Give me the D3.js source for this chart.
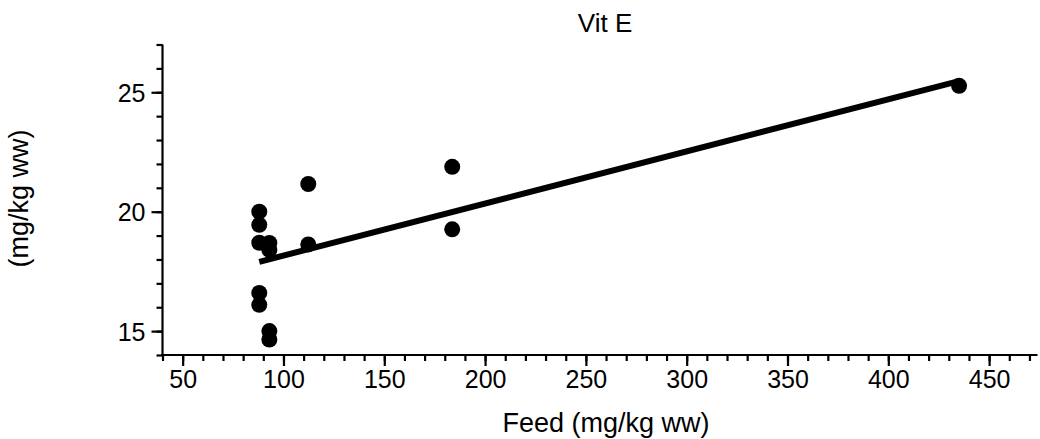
<!DOCTYPE html>
<html>
<head>
<meta charset="utf-8">
<script src="https://cdn.jsdelivr.net/npm/d3@7"></script>
<style>
  html, body { margin: 0; padding: 0; background: #fff; }
  svg { display: block; font-family: "Liberation Sans", Arial, Helvetica, sans-serif; }
</style>
</head>
<body>
<svg id="chart" width="1040" height="439"></svg>
<script>
// ---- data ----
const title = "Vit E";
const xLabel = "Feed (mg/kg ww)";
const yLabel = "(mg/kg ww)";
const feed = [88, 88, 88, 88, 88, 93, 93, 93, 93, 112.3, 112.3, 183.7, 183.7, 435.1];
const vitE = [20.0, 19.45, 18.7, 16.6, 16.1, 18.69, 18.4, 15.0, 14.65, 21.16, 18.63, 21.88, 19.26, 25.27];
const fitX = [88, 435];
const fitY = [17.9, 25.47];
const xTicks = [50, 100, 150, 200, 250, 300, 350, 400, 450];
const xMinorTicks = d3.range(40, 471, 10);
const yTicks = [15, 20, 25];
const yMinorTicks = d3.range(14, 28, 1);

// ---- chart ----
const svg = d3.select("#chart");
const x = d3.scaleLinear().domain([40, 474]).range([162.5, 1037.5]);
const y = d3.scaleLinear().domain([14, 27]).range([355, 44.5]);

// minor ticks
const xMinor = svg.append("g").attr("transform", `translate(0,${y(14)})`)
  .call(d3.axisBottom(x).tickValues(xMinorTicks).tickSize(6).tickFormat(""));
const yMinor = svg.append("g").attr("transform", `translate(${x(40)},0)`)
  .call(d3.axisLeft(y).tickValues(yMinorTicks).tickSize(6).tickFormat(""));

// major axes
const xAxis = svg.append("g").attr("transform", `translate(0,${y(14)})`)
  .call(d3.axisBottom(x).tickValues(xTicks).tickSize(11).tickPadding(4).tickFormat(d3.format("d")));
const yAxis = svg.append("g").attr("transform", `translate(${x(40)},0)`)
  .call(d3.axisLeft(y).tickValues(yTicks).tickSize(11).tickPadding(6).tickFormat(d3.format("d")));

[xMinor, yMinor, xAxis, yAxis].forEach(g => {
  g.select(".domain").attr("stroke", "#000").attr("stroke-width", 2).attr("d", null);
  g.selectAll(".tick line").attr("stroke", "#000").attr("stroke-width", 2.2);
});
// domain lines drawn explicitly
svg.append("line").attr("x1", x(40) - 1).attr("x2", x(474)).attr("y1", y(14)).attr("y2", y(14))
  .attr("stroke", "#000").attr("stroke-width", 2.2);
svg.append("line").attr("x1", x(40)).attr("x2", x(40)).attr("y1", y(14) + 1).attr("y2", y(27))
  .attr("stroke", "#000").attr("stroke-width", 2.2);

xAxis.selectAll(".tick text").attr("font-size", 25).attr("fill", "#000")
  .attr("font-family", "Liberation Sans, Arial, sans-serif");
yAxis.selectAll(".tick text").attr("font-size", 25).attr("fill", "#000")
  .attr("font-family", "Liberation Sans, Arial, sans-serif").attr("dy", "0.36em");

// fit line
svg.append("path")
  .datum(fitX.map((d, i) => [d, fitY[i]]))
  .attr("d", d3.line().x(d => x(d[0])).y(d => y(d[1])))
  .attr("fill", "none").attr("stroke", "#000").attr("stroke-width", 6).attr("stroke-linecap", "butt");

// points
svg.append("g").selectAll("circle")
  .data(feed.map((d, i) => [d, vitE[i]]))
  .join("circle")
  .attr("cx", d => x(d[0])).attr("cy", d => y(d[1])).attr("r", 8)
  .attr("fill", "#000");

// titles
svg.append("text").attr("x", 605).attr("y", 32).attr("text-anchor", "middle")
  .attr("font-size", 26).attr("fill", "#000").text(title);
svg.append("text").attr("x", 606).attr("y", 432).attr("text-anchor", "middle")
  .attr("font-size", 27).attr("fill", "#000").text(xLabel);
svg.append("text").attr("transform", "translate(28,198.5) rotate(-90)").attr("text-anchor", "middle")
  .attr("font-size", 27).attr("fill", "#000").text(yLabel);
</script>
</body>
</html>
